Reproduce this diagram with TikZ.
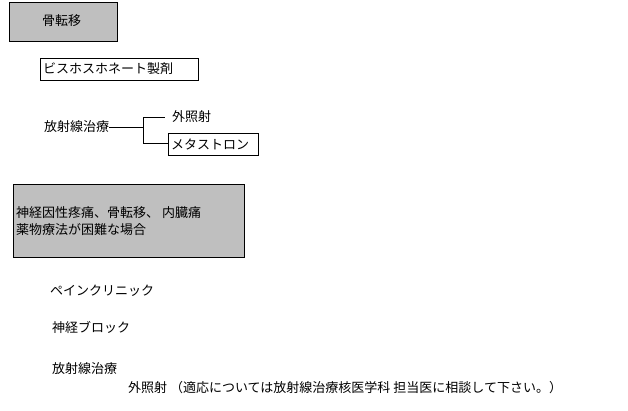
\documentclass[tikz,border=0pt]{standalone}
\usepackage{fontspec}
\setmainfont{Noto Sans CJK JP}
\begin{document}
\begin{tikzpicture}[x=1pt,y=-1pt,
  every node/.style={inner sep=0pt,font=\fontsize{13}{16}\selectfont,anchor=west},
  gbox/.style={draw,fill=black!25},
  wbox/.style={draw,fill=white}]
\useasboundingbox (0,0) rectangle (628,410);
\draw[gbox] (9,2) rectangle (117,41);
\node (a) at (42,21) {骨転移};
\draw[wbox] (40,58) rectangle (198,80);
\node (b) at (43,69) {ビスホスホネート製剤};
\node (c) at (44,127) {放射線治療};
\coordinate (j) at (143,127);
\node (d) at (172,117) {外照射};
\draw[wbox] (168,133) rectangle (258,155);
\node (e) at (171,144) {メタストロン};
\draw (c.east) -- (j) (143,117) -- (143,143);
\draw (143,117) -- (165,117);
\draw (143,143) -- (168,143);
\draw[gbox] (13,184) rectangle (244,257);
\node (f) at (16,213) {神経因性疼痛、骨転移、 内臓痛};
\node (g) at (16,230) {薬物療法が困難な場合};
\node (h) at (50,291) {ペインクリニック};
\node (i) at (52,327) {神経ブロック};
\node (k) at (52,369) {放射線治療};
\node (l) at (128,388) {外照射 （適応については放射線治療核医学科  担当医に相談して下さい。）};
\end{tikzpicture}
\end{document}
